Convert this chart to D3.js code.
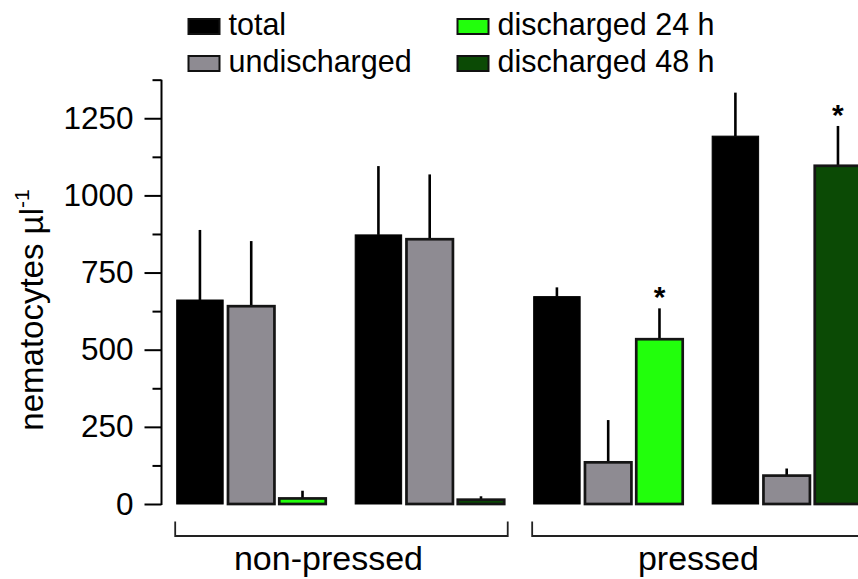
<!DOCTYPE html>
<html>
<head>
<meta charset="utf-8">
<script src="https://cdn.jsdelivr.net/npm/d3@7"></script>
<style>
  body { margin: 0; background: #fff; }
  svg { display: block; font-family: "Liberation Sans", Arial, sans-serif; }
</style>
</head>
<body>
<svg id="chart" width="858" height="579"></svg>
<script>
// Nematocyte counts (mean and SD) per treatment group
const conditions = ["non-pressed", "pressed"];
const groups = ["non-pressed 24 h", "non-pressed 48 h", "pressed 24 h", "pressed 48 h"];
const groupCondition = ["non-pressed", "non-pressed", "pressed", "pressed"];
const groupTime = ["24 h", "48 h", "24 h", "48 h"];
const seriesNames = ["total", "undischarged", "discharged 24 h", "discharged 48 h"];
const total = [661, 872, 672, 1192];
const totalSD = [227, 223, 30, 141];
const undischarged = [641, 858, 135, 92];
const undischargedSD = [211, 210, 137, 23];
const discharged = [18, 14, 534, 1096];
const dischargedSD = [25, 11, 100, 129];
const significant = [false, false, true, true];
const yTicks = [0, 250, 500, 750, 1000, 1250];
const yMax = 1375;

const colors = {
  "total": "#000000",
  "undischarged": "#8e8b92",
  "discharged 24 h": "#22ff0c",
  "discharged 48 h": "#0b4a05"
};

const svg = d3.select("#chart");

const y = d3.scaleLinear().domain([0, yMax]).range([504, 504 - yMax * 0.3086]);
const x = d3.scaleBand().domain(groups).range([176.7, 861.2]).paddingInner(0.165).paddingOuter(0);
const xs = d3.scaleBand().domain(["total", "undischarged", "discharged"]).range([0, x.bandwidth()]).paddingInner(0.094);

// y axis: minor ticks every 125, labelled majors every 250
const minorTicks = d3.range(0, yMax + 1, 125);
const axis = d3.axisLeft(y)
  .tickValues(minorTicks)
  .tickSize(9)
  .tickSizeOuter(0)
  .tickPadding(19)
  .tickFormat(d => yTicks.includes(d) ? d : "");
const gy = svg.append("g").attr("transform", "translate(161.5,0)").call(axis);
gy.select(".domain").attr("stroke", "#000").attr("stroke-width", 2)
  .attr("d", `M0,${y(0) + 1}V${y(yMax)}`);
gy.selectAll(".tick line").attr("stroke", "#000").attr("stroke-width", 2)
  .attr("x2", d => yTicks.includes(d) ? -17 : -9);
gy.selectAll(".tick text").attr("fill", "#000").attr("font-size", 31.5)
  .attr("font-family", "'Liberation Sans', Arial, sans-serif");

// y axis title with superscript
const yTitle = svg.append("text")
  .attr("transform", `translate(43,310) rotate(-90)`)
  .attr("text-anchor", "middle")
  .attr("font-size", 33)
  .attr("fill", "#000");
yTitle.append("tspan").text("nematocytes µl");
yTitle.append("tspan").attr("font-size", 21).attr("dy", -14).text("-1");

// build bar records
const bars = [];
groups.forEach((g, i) => {
  bars.push({ g, key: "total", value: total[i], sd: totalSD[i], color: colors["total"], star: false });
  bars.push({ g, key: "undischarged", value: undischarged[i], sd: undischargedSD[i], color: colors["undischarged"], star: false });
  bars.push({ g, key: "discharged", value: discharged[i], sd: dischargedSD[i],
    color: colors["discharged " + groupTime[i]], star: significant[i] });
});

// error bars (upper whisker only)
svg.append("g").selectAll("line").data(bars).join("line")
  .attr("x1", d => x(d.g) + xs(d.key) + xs.bandwidth() / 2)
  .attr("x2", d => x(d.g) + xs(d.key) + xs.bandwidth() / 2)
  .attr("y1", d => y(d.value))
  .attr("y2", d => y(d.value + d.sd))
  .attr("stroke", "#000").attr("stroke-width", 2.6);

// bars
svg.append("g").selectAll("rect").data(bars).join("rect")
  .attr("x", d => x(d.g) + xs(d.key))
  .attr("y", d => y(d.value))
  .attr("width", xs.bandwidth())
  .attr("height", d => y(0) - y(d.value))
  .attr("fill", d => d.color)
  .attr("stroke", d => d.key === "total" ? "#000" : "#151515")
  .attr("stroke-width", d => d.key === "total" ? 1 : 2.7);

// significance marks
svg.append("g").selectAll("text").data(bars.filter(d => d.star)).join("text")
  .attr("x", d => x(d.g) + xs(d.key) + xs.bandwidth() / 2)
  .attr("y", d => y(d.value + d.sd) - 1)
  .attr("text-anchor", "middle")
  .attr("font-size", 30)
  .attr("font-weight", "bold")
  .attr("fill", "#000")
  .text("*");

// condition brackets and labels
const bracketY = 536, bracketTop = 521.5;
const labelShift = { "non-pressed": -13, "pressed": 0 };
conditions.forEach(c => {
  const gs = groups.filter((g, i) => groupCondition[i] === c);
  const x0 = x(gs[0]) - 1.5;
  const x1 = x(gs[gs.length - 1]) + x.bandwidth() + 3.5;
  svg.append("path")
    .attr("d", `M${x0},${bracketY - 14.5}V${bracketY}H${x1}V${bracketTop}`)
    .attr("fill", "none").attr("stroke", "#222").attr("stroke-width", 1.8);
  svg.append("text")
    .attr("x", (x0 + x1) / 2 + labelShift[c])
    .attr("y", 570)
    .attr("text-anchor", "middle")
    .attr("font-size", 34)
    .attr("fill", "#000")
    .text(c);
});

// legend
const legendPos = [
  { name: "total", x: 188.5, y: 35 },
  { name: "undischarged", x: 188.5, y: 72 },
  { name: "discharged 24 h", x: 457.5, y: 35 },
  { name: "discharged 48 h", x: 457.5, y: 72 }
];
const lg = svg.append("g").selectAll("g").data(seriesNames.map(n => legendPos.find(p => p.name === n))).join("g");
lg.append("rect")
  .attr("x", d => d.x).attr("y", d => d.y - 16)
  .attr("width", 31).attr("height", 15)
  .attr("fill", d => colors[d.name])
  .attr("stroke", "#111").attr("stroke-width", 2);
lg.append("text")
  .attr("x", d => d.x + 40).attr("y", d => d.y)
  .attr("font-size", 30.5).attr("fill", "#000")
  .text(d => d.name);
</script>
</body>
</html>
